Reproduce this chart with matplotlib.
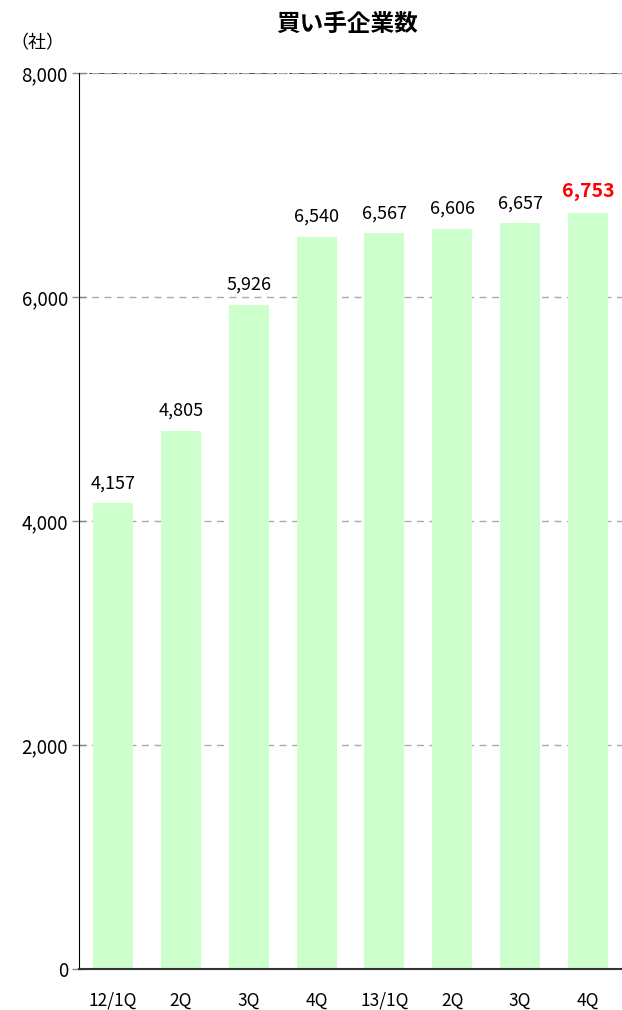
import matplotlib.pyplot as plt

plt.rcParams['font.family'] = ['Noto Sans CJK JP', 'DejaVu Sans']

# === データ ===
categories = ["12/1Q", "2Q", "3Q", "4Q", "13/1Q", "2Q", "3Q", "4Q"]
buyers = [4157, 4805, 5926, 6540, 6567, 6606, 6657, 6753]
ytick_vals = [0, 2000, 4000, 6000, 8000]
ytick_labels = ["0", "2,000", "4,000", "6,000", "8,000"]

# === 図の作成 ===
fig = plt.figure(figsize=(6.22, 10.10), dpi=100)
ax = fig.add_axes([79 / 622, 41 / 1010, 543 / 622, 896 / 1010])

x = range(len(categories))
ax.bar(x, buyers, width=0.59, color="#ccffcc", zorder=2)

# 数値ラベル（最後だけ赤）
for i, v in enumerate(buyers):
    last = i == len(buyers) - 1
    ax.text(i, v + 100, f"{v:,}", ha="center", va="bottom",
            fontsize=14 if last else 13,
            color="red" if last else "black",
            fontweight="bold" if last else "normal", zorder=3)

ax.set_xlim(-0.5, len(categories) - 0.5)
ax.set_ylim(0, 8000)
ax.set_yticks(ytick_vals)
ax.set_yticklabels(ytick_labels, fontsize=13.5)
ax.set_xticks(list(x))
ax.set_xticklabels(categories, fontsize=12.5)
ax.tick_params(axis="x", length=0, pad=16)
ax.tick_params(axis="y", direction="inout", length=10, width=1,
               color="#888888", pad=3)

ax.grid(axis="y", linestyle=(0, (5, 4)), color="#aaaaaa", linewidth=1, zorder=1)
ax.axhline(8000, linestyle=(0, (5, 1)), color="#333333", linewidth=1.2, zorder=1)

ax.spines["top"].set_visible(False)
ax.spines["right"].set_visible(False)
ax.spines["left"].set_color("black")
ax.spines["bottom"].set_color("#333333")
ax.spines["bottom"].set_linewidth(1.5)

fig.text(347 / 622, 1 - 24 / 1010, "買い手企業数", ha="center", va="center",
         fontsize=17, fontweight="bold")
fig.text(10 / 622, 1 - 43 / 1010, "（社）", ha="left", va="center", fontsize=13)

# === 保存 ===
fig.savefig("out.png", dpi=100)
